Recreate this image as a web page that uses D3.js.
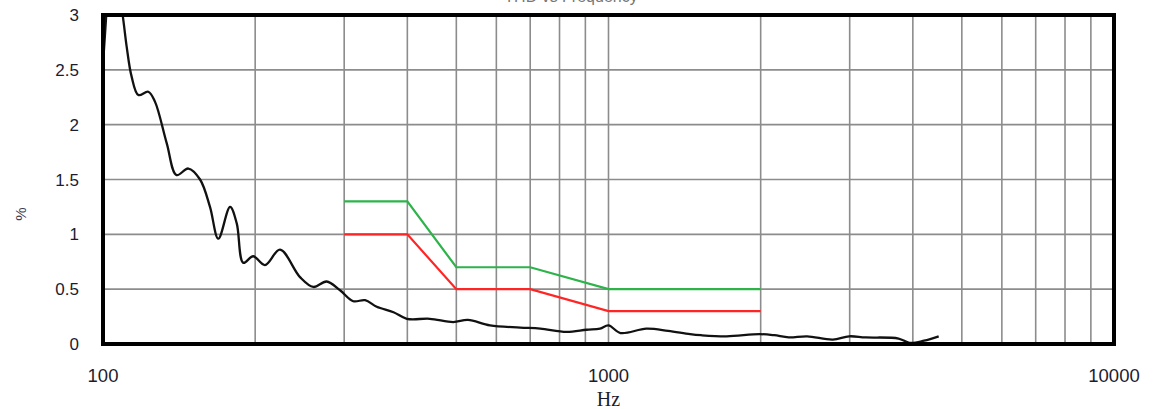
<!DOCTYPE html>
<html>
<head>
<meta charset="utf-8">
<script src="https://cdn.jsdelivr.net/npm/d3@7"></script>
<style>
  html, body { margin: 0; padding: 0; background: #fff; }
  svg { display: block; }
</style>
</head>
<body>
<svg id="chart" width="1155" height="409"></svg>
<script>
// ---- data ----
const thdFreq = [100, 101, 102, 104, 106, 109.5, 111.4, 113.9, 117.5, 122.9, 126.7, 133.7, 139.8, 147.5, 155.6,
  162.8, 169.1, 178.4, 183.9, 189.5, 198.2, 209.1, 224, 245.3, 260.6, 276.9, 294.4, 312.7, 330, 348, 375.6,
  399, 443, 493, 527, 583, 669, 733, 826, 905, 962, 1000, 1056, 1188, 1312, 1450, 1525, 1713, 1990, 2127,
  2273, 2471, 2777, 2992, 3226, 3748, 3940, 4210, 4500];
const thdValue = [2.55, 2.85, 3.12, 3.4, 3.4, 2.98, 2.71, 2.44, 2.27, 2.30, 2.21, 1.83, 1.54, 1.60, 1.50,
  1.25, 0.96, 1.25, 1.10, 0.74, 0.80, 0.72, 0.86, 0.61, 0.52, 0.57, 0.49, 0.39, 0.40, 0.34, 0.29,
  0.23, 0.23, 0.20, 0.22, 0.17, 0.15, 0.14, 0.11, 0.13, 0.14, 0.17, 0.10, 0.14, 0.12, 0.09, 0.08, 0.07, 0.09, 0.08,
  0.06, 0.07, 0.04, 0.07, 0.06, 0.05, 0.01, 0.03, 0.07];
const limitFreq = [300, 400, 500, 700, 1000, 2000];
const redLimit = [1.0, 1.0, 0.5, 0.5, 0.3, 0.3];
const greenLimit = [1.3, 1.3, 0.7, 0.7, 0.5, 0.5];
const yTicks = [0, 0.5, 1, 1.5, 2, 2.5, 3];
const xTickLabels = [100, 1000, 10000];
const titleText = "THD vs Frequency";
const xTitle = "Hz";
const yTitle = "%";

// ---- layout ----
const L = 103, R = 1114, T = 15, B = 344;
const svg = d3.select("#chart");
const x = d3.scaleLog().domain([100, 10000]).range([L, R]);
const y = d3.scaleLinear().domain([0, 3]).range([B, T]);

svg.append("defs").append("clipPath").attr("id", "plotclip")
  .append("rect").attr("x", L).attr("y", T).attr("width", R - L).attr("height", B - T);

// grid
const grid = svg.append("g");
grid.selectAll("line.v").data(x.ticks().filter(d => d > 100 && d < 10000)).enter().append("line")
  .attr("x1", d => x(d)).attr("x2", d => x(d)).attr("y1", T).attr("y2", B)
  .attr("stroke", "#8c8c8c").attr("stroke-width", 1.6);
grid.selectAll("line.h").data(yTicks.filter(d => d > 0 && d < 3)).enter().append("line")
  .attr("x1", L).attr("x2", R).attr("y1", d => y(d)).attr("y2", d => y(d))
  .attr("stroke", "#8c8c8c").attr("stroke-width", 1.6);

// series
const plot = svg.append("g").attr("clip-path", "url(#plotclip)");
const line = d3.line().x(d => x(d[0])).y(d => y(d[1])).curve(d3.curveCatmullRom.alpha(0.5));
const lin = d3.line().x(d => x(d[0])).y(d => y(d[1]));

plot.append("path").datum(limitFreq.map((f, i) => [f, greenLimit[i]]))
  .attr("d", lin).attr("fill", "none").attr("stroke", "#2db34a").attr("stroke-width", 2.2);
plot.append("path").datum(limitFreq.map((f, i) => [f, redLimit[i]]))
  .attr("d", lin).attr("fill", "none").attr("stroke", "#ff2525").attr("stroke-width", 2.2);
plot.append("path").datum(thdFreq.map((f, i) => [f, thdValue[i]]))
  .attr("d", line).attr("fill", "none").attr("stroke", "#111").attr("stroke-width", 2.3)
  .attr("stroke-linejoin", "round");

// border
svg.append("rect").attr("x", L).attr("y", T).attr("width", R - L).attr("height", B - T)
  .attr("fill", "none").attr("stroke", "#000").attr("stroke-width", 4);

// y axis labels
svg.append("g").selectAll("text").data(yTicks).enter().append("text")
  .attr("x", 79).attr("y", d => y(d)).attr("dy", "0.36em")
  .attr("text-anchor", "end")
  .attr("font-family", "Liberation Sans, Arial, sans-serif").attr("font-size", 17)
  .attr("fill", "#1c1c30")
  .text(d => d3.format("~g")(d));

// x axis labels
svg.append("g").selectAll("text").data(xTickLabels).enter().append("text")
  .attr("x", d => x(d)).attr("y", 382)
  .attr("text-anchor", "middle")
  .attr("font-family", "Liberation Sans, Arial, sans-serif").attr("font-size", 18.5)
  .attr("fill", "#1c1c30")
  .text(d => d);

svg.append("text").attr("x", x(1000)).attr("y", 406).attr("text-anchor", "middle")
  .attr("font-family", "Liberation Serif, Times New Roman, serif").attr("font-size", 20)
  .attr("fill", "#1c1c30").text(xTitle);

svg.append("text").attr("transform", "translate(26,214) rotate(-90)")
  .attr("text-anchor", "middle")
  .attr("font-family", "Liberation Sans, Arial, sans-serif").attr("font-size", 15)
  .attr("fill", "#3a3a50").text(yTitle);

// title (cut off at the top edge as in the reference)
svg.append("text").attr("x", 571).attr("y", 1.5).attr("text-anchor", "middle")
  .attr("font-family", "Liberation Sans, Arial, sans-serif").attr("font-size", 16)
  .attr("fill", "#777").text(titleText);
</script>
</body>
</html>
